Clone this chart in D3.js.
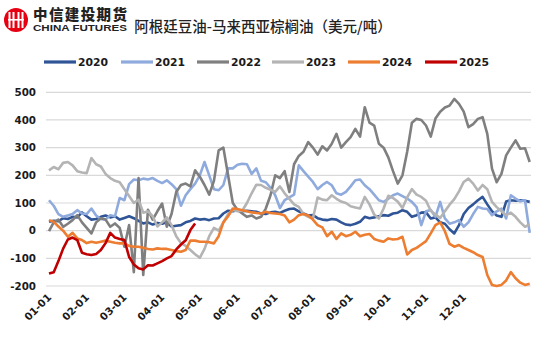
<!DOCTYPE html>
<html><head><meta charset="utf-8">
<script src="https://cdn.jsdelivr.net/npm/d3@7"></script>
<style>
html,body{margin:0;padding:0;background:#fff;}
svg{display:block;}
</style>
</head><body>
<svg id="c" width="550" height="342"></svg>
<script>
// ---- data (x position in months from 01-01, sampled every STEP month) ----
const STEP = 0.125;
const monthLabels = ["01-01","02-01","03-01","04-01","05-01","06-01","07-01","08-01","09-01","10-01","11-01","12-01"];
const yTicks = [500,400,300,200,100,0,-100,-200];
const years = ["2020","2021","2022","2023","2024","2025"];
const colors = ["#2F5597","#8FAADC","#7F7F7F","#B4B4B4","#ED7D31","#C00000"];

const s2020 = [32,36,34,45,42,50,48,66,52,40,42,50,55,48,52,40,46,52,45,35,26,30,22,28,25,30,15,18,20,30,35,44,40,42,38,44,45,62,72,70,74,70,72,70,68,62,60,66,68,64,72,78,80,70,62,55,56,45,40,38,42,40,30,22,20,25,32,50,45,48,52,56,54,62,65,74,68,50,56,65,66,44,48,30,25,5,-10,20,60,82,95,110,122,95,70,55,50,105,110,108,110,108,104];
const s2021 = [110,90,60,50,55,60,74,62,60,80,55,42,40,56,52,118,110,168,185,182,188,185,190,180,172,182,168,150,90,128,150,170,200,248,200,150,146,165,225,225,238,242,240,205,225,180,175,155,128,82,110,120,130,236,215,195,176,150,165,176,164,135,130,140,160,182,185,164,150,130,110,104,115,128,134,125,116,104,85,20,70,75,50,104,44,25,30,38,14,30,60,86,80,78,56,70,80,44,128,116,106,110,-8];
const s2022 = [-2,30,40,14,25,38,56,30,10,-10,30,45,40,14,26,10,-58,20,-150,190,-160,75,40,70,98,14,60,140,165,170,160,218,195,165,130,180,290,300,200,100,75,62,50,55,44,50,80,128,200,190,215,140,240,270,285,320,300,275,305,290,314,350,300,320,338,368,340,446,390,380,314,300,265,215,170,200,285,390,404,400,380,340,405,430,445,452,476,458,430,374,385,404,410,350,224,175,205,272,300,326,296,298,248];
const s2023 = [218,230,222,245,248,236,215,210,208,262,240,232,205,190,180,175,150,125,100,112,65,70,52,15,30,48,20,-20,-45,-55,-70,-85,-98,-66,-20,10,0,30,60,75,70,72,100,135,166,165,155,148,140,160,135,115,95,86,60,50,44,120,112,110,128,115,105,100,88,84,80,122,95,58,44,80,126,118,105,82,120,150,130,122,108,72,58,46,70,94,114,142,176,188,170,145,165,150,104,85,70,56,65,50,30,14,24];
const s2024 = [38,32,15,0,-22,-8,-28,-34,-45,-40,-44,-40,-36,-40,-44,-46,-46,-55,-58,-58,-62,-66,-68,-64,-66,-66,-70,-74,-76,-70,-36,-36,-40,-40,-42,-46,-20,30,52,80,78,74,70,66,64,62,68,64,62,60,55,30,40,56,60,55,40,20,12,-20,-4,-30,-10,-20,-15,-4,-20,-15,-12,-30,-36,-40,-28,-32,-30,-22,-86,-70,-62,-50,-38,-10,20,30,-2,-48,-58,-52,-62,-70,-78,-88,-95,-160,-196,-200,-196,-180,-150,-172,-188,-196,-192];
const s2025 = [-155,-150,-110,-65,-32,-25,-34,-80,-85,-88,-84,-70,-45,-8,-25,-30,-34,-95,-122,-136,-140,-125,-126,-118,-110,-100,-92,-68,-50,-35,2,26];
const seriesValues = [s2020,s2021,s2022,s2023,s2024,s2025];

// ---- drawing ----
const svg = d3.select("#c");
const x = d3.scaleLinear().domain([0, 12.75]).range([49, 529.7]);
const y = d3.scaleLinear().domain([-200, 500]).range([286, 92.3]);
const numFont = "'DejaVu Sans',Verdana,sans-serif";

// logo
const logo = svg.append("g");
logo.append("circle").attr("cx",16).attr("cy",20).attr("r",12).attr("fill","#E60012");
[9.5,13.5,18.5,22.5].forEach(cx=>{
  logo.append("rect").attr("x",cx-1).attr("y",12).attr("width",2).attr("height",16).attr("fill","#fff");
});
logo.append("rect").attr("x",8).attr("y",19).attr("width",16).attr("height",1.6).attr("fill","#fff");
logo.append("text").attr("x",33).attr("y",20).attr("font-family","'Noto Sans CJK SC'")
  .attr("font-weight","900").attr("font-size",14.5).attr("fill","#222").attr("textLength",94)
  .text("中信建投期货");
logo.append("text").attr("x",33).attr("y",31).attr("font-family","'Liberation Sans',Arial")
  .attr("font-weight","bold").attr("font-size",8.5).attr("fill","#222").attr("textLength",94)
  .attr("lengthAdjust","spacingAndGlyphs").text("CHINA FUTURES");

// title
svg.append("text").attr("x",263).attr("y",32).attr("text-anchor","middle")
  .attr("font-family","'Noto Sans CJK SC'").attr("font-weight","500").attr("font-size",14.5)
  .attr("fill","#222").text("阿根廷豆油-马来西亚棕榈油（美元/吨）");

// legend
const legX = [44,121,197,272,348,425];
years.forEach((yr,i)=>{
  const g = svg.append("g");
  g.append("line").attr("x1",legX[i]).attr("x2",legX[i]+32).attr("y1",62).attr("y2",62)
    .attr("stroke",colors[i]).attr("stroke-width",3.2);
  g.append("text").attr("x",legX[i]+34).attr("y",66).attr("font-family",numFont)
    .attr("font-weight","bold").attr("font-size",10.8).attr("fill","#1a1a1a").text(yr);
});

// gridlines
svg.append("g").selectAll("line").data(yTicks).join("line")
  .attr("x1",46).attr("x2",531).attr("y1",d=>y(d)).attr("y2",d=>y(d))
  .attr("stroke","#D9D9D9").attr("stroke-width",1.2);

// y labels
svg.append("g").selectAll("text").data(yTicks).join("text")
  .attr("x",36).attr("y",d=>y(d)).attr("dy","0.36em").attr("text-anchor","end")
  .attr("font-family",numFont).attr("font-weight","bold").attr("font-size",10.3)
  .attr("fill","#1a1a1a").text(d=>d);

// x labels
svg.append("g").selectAll("text").data(monthLabels).join("text")
  .attr("transform",(d,i)=>`translate(${x(i)+3},${298}) rotate(-45)`)
  .attr("text-anchor","end")
  .attr("font-family",numFont).attr("font-weight","bold").attr("font-size",10.3)
  .attr("fill","#1a1a1a").text(d=>d);

// lines
const line = d3.line().x((d,i)=>x(i*STEP)).y(d=>y(d)).curve(d3.curveLinear);
const plot = svg.append("g");
seriesValues.forEach((vals,i)=>{
  plot.append("path").datum(vals).attr("d",line).attr("fill","none")
    .attr("stroke",colors[i]).attr("stroke-width",2.6).attr("stroke-linejoin","round");
});
</script>
</body></html>
